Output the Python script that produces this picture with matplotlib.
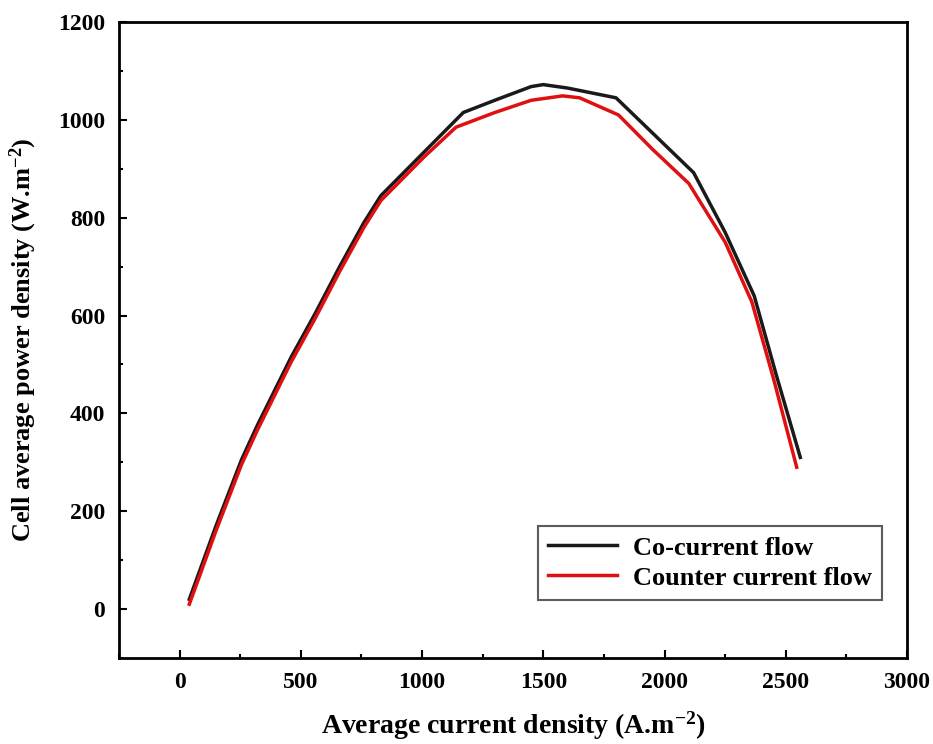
import matplotlib
matplotlib.use("Agg")
import matplotlib.pyplot as plt
from matplotlib.ticker import MultipleLocator

plt.rcParams['font.family'] = ['Liberation Serif', 'DejaVu Serif']
plt.rcParams['font.weight'] = 'bold'
plt.rcParams['mathtext.fontset'] = 'custom'
plt.rcParams['mathtext.rm'] = 'Liberation Serif:bold'
plt.rcParams['mathtext.it'] = 'Liberation Serif:bold'
plt.rcParams['mathtext.bf'] = 'Liberation Serif:bold'

# co-current flow (black)
co_x = [40, 150, 255, 320, 380, 460, 560, 660, 760, 830, 920, 1010, 1170, 1300,
        1450, 1500, 1600, 1800, 2120, 2250, 2370, 2460, 2560]
co_y = [20, 170, 305, 375, 435, 515, 605, 700, 790, 845, 890, 935, 1015, 1040,
        1068, 1072, 1065, 1045, 892, 770, 640, 480, 310]

# counter current flow (red)
ct_x = [40, 150, 255, 320, 380, 460, 560, 660, 760, 830, 920, 1010, 1140, 1300,
        1450, 1580, 1650, 1810, 1950, 2100, 2250, 2360, 2450, 2545]
ct_y = [10, 160, 295, 365, 425, 505, 595, 690, 780, 835, 880, 925, 985, 1015,
        1040, 1049, 1045, 1010, 940, 870, 750, 628, 470, 290]

fig = plt.figure(figsize=(9.33, 7.44), dpi=100)
ax = fig.add_axes([119/933, 1 - 658/744, (907-119)/933, (658-22)/744])

ax.plot(co_x, co_y, color='#1a1a1a', lw=2.5, label='Co-current flow')
ax.plot(ct_x, ct_y, color='#e01010', lw=2.5, label='Counter current flow')

ax.set_xlim(-250, 3000)
ax.set_ylim(-100, 1200)
ax.xaxis.set_major_locator(MultipleLocator(500))
ax.xaxis.set_minor_locator(MultipleLocator(250))
ax.yaxis.set_major_locator(MultipleLocator(200))
ax.yaxis.set_minor_locator(MultipleLocator(100))
ax.tick_params(which='both', direction='in', top=False, right=False, width=1.5)
ax.tick_params(which='major', length=6, labelsize=17, pad=10)
ax.tick_params(which='minor', length=3)
for s in ax.spines.values():
    s.set_linewidth(2)

ax.set_xlabel(r'Average current density (A.m$^{-2}$)', fontsize=20, fontweight='bold', labelpad=12)
ax.set_ylabel(r'Cell average power density (W.m$^{-2}$)', fontsize=19, fontweight='bold', labelpad=14)

leg = ax.legend(loc='lower right', bbox_to_anchor=(0.985, 0.07), fontsize=19,
                frameon=True, fancybox=False, edgecolor='#333333',
                handlelength=2.6, handletextpad=0.6, borderpad=0.4, labelspacing=0.25)
leg.get_frame().set_linewidth(1.5)

fig.savefig('out.png', dpi=100)
